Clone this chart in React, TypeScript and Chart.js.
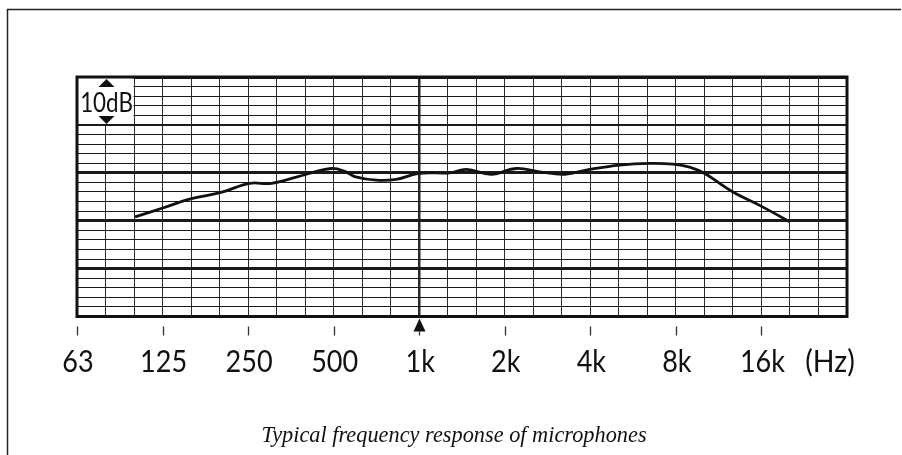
import React, { useEffect, useRef } from "react";
import { Chart, registerables } from "chart.js";

Chart.register(...registerables);

// ---- data ----
const freqHz = [100, 126, 158, 201, 253, 302, 401, 491, 547, 593, 707, 831, 1000, 1280, 1465, 1794, 2198, 2654, 3250, 3978, 5075, 6470, 7815, 8940, 10100, 12700, 15770, 20100];
const responseDb = [-9.2, -7.3, -5.4, -4.1, -2.2, -2.2, -0.3, 0.9, 0.3, -0.8, -1.55, -1.35, -0.1, 0, 0.7, -0.3, 0.9, 0.2, -0.3, 0.7, 1.6, 1.95, 1.8, 1.2, -0.15, -4.0, -6.8, -10.2];

const octaveTicks = [62.5, 125, 250, 500, 1000, 2000, 4000, 8000, 16000];
const octaveLabels = ["63", "125", "250", "500", "1k", "2k", "4k", "8k", "16k"];
const referenceHz = 1000;
const xMin = 62.5;
const xMax = 32000;
const gridPerOctave = 3;
const yMin = -30;
const yMax = 20;
const yMajorStep = 10;
const yMinorStep = 2;
const unitLabel = "(Hz)";
const scaleLabel = "10dB";
const caption = "Typical frequency response of microphones";

const LABEL_FONT = "Lato, 'Open Sans', sans-serif";

function scaledText(ctx: CanvasRenderingContext2D, text: string, x: number, y: number, sx: number) {
  ctx.save();
  ctx.translate(x, y);
  ctx.scale(sx, 1);
  ctx.fillText(text, 0, 0);
  ctx.restore();
}

const decor = {
  id: "decor",
  beforeDatasetsDraw(chart: any) {
    const { ctx, chartArea: a, scales } = chart;
    const x = scales.x;
    const y = scales.y;
    const xr = x.getPixelForValue(xMin * Math.pow(2, 2 / gridPerOctave));
    const yb = y.getPixelForValue(yMax - yMajorStep);
    ctx.save();
    ctx.fillStyle = "#ffffff";
    ctx.fillRect(a.left + 1, a.top + 1, xr - a.left - 1.5, yb - a.top - 2);
    const cx = (a.left + xr) / 2 + 1;
    ctx.fillStyle = "#111";
    ctx.beginPath();
    ctx.moveTo(cx, a.top + 2);
    ctx.lineTo(cx + 8, a.top + 10);
    ctx.lineTo(cx - 8, a.top + 10);
    ctx.closePath();
    ctx.fill();
    ctx.beginPath();
    ctx.moveTo(cx, yb - 1);
    ctx.lineTo(cx + 8, yb - 9);
    ctx.lineTo(cx - 8, yb - 9);
    ctx.closePath();
    ctx.fill();
    ctx.font = `26px ${LABEL_FONT}`;
    ctx.textAlign = "center";
    ctx.textBaseline = "alphabetic";
    scaledText(ctx, scaleLabel, cx, a.top + 35, 0.86);
    ctx.restore();
  },
  afterDatasetsDraw(chart: any) {
    const { ctx, chartArea: a, scales } = chart;
    const x = scales.x;
    ctx.save();
    ctx.strokeStyle = "#111";
    ctx.lineWidth = 3;
    ctx.strokeRect(a.left, a.top, a.right - a.left, a.bottom - a.top);

    ctx.lineWidth = 1.3;
    ctx.strokeStyle = "#333";
    octaveTicks.forEach((v) => {
      const px = Math.round(x.getPixelForValue(v)) + 0.5;
      if (Math.abs(v - referenceHz) < 1e-6) {
        ctx.fillStyle = "#111";
        ctx.beginPath();
        ctx.moveTo(px, a.bottom + 2);
        ctx.lineTo(px + 6, a.bottom + 15);
        ctx.lineTo(px - 6, a.bottom + 15);
        ctx.closePath();
        ctx.fill();
        ctx.beginPath();
        ctx.moveTo(px, a.bottom + 15);
        ctx.lineTo(px, a.bottom + 19);
        ctx.stroke();
      } else {
        ctx.beginPath();
        ctx.moveTo(px, a.bottom + 10);
        ctx.lineTo(px, a.bottom + 19);
        ctx.stroke();
      }
    });

    ctx.fillStyle = "#111";
    ctx.font = `30px ${LABEL_FONT}`;
    ctx.textAlign = "center";
    ctx.textBaseline = "alphabetic";
    octaveTicks.forEach((v, i) => {
      scaledText(ctx, octaveLabels[i], x.getPixelForValue(v) + 1, a.bottom + 55.5, 0.9);
    });
    scaledText(ctx, unitLabel, 830, a.bottom + 55.5, 0.95);

    ctx.font = "italic 24px 'Liberation Serif', serif";
    scaledText(ctx, caption, 454, 442, 0.93);

    ctx.strokeStyle = "#222";
    ctx.lineWidth = 1.5;
    ctx.beginPath();
    ctx.moveTo(7.5, 460);
    ctx.lineTo(7.5, 9.5);
    ctx.lineTo(901, 9.5);
    ctx.stroke();
    ctx.restore();
  },
};

export default function App() {
  const ref = useRef<HTMLCanvasElement | null>(null);
  useEffect(() => {
    if (!ref.current) return;
    const chart = new Chart(ref.current, {
      type: "line",
      data: {
        datasets: [
          {
            data: freqHz.map((f, i) => ({ x: f, y: responseDb[i] })),
            borderColor: "#111",
            borderWidth: 2.8,
            pointRadius: 0,
            tension: 0.4,
            fill: false,
          },
        ],
      },
      options: {
        animation: false,
        responsive: false,
        maintainAspectRatio: false,
        layout: { padding: { left: 77, top: 77, right: 55, bottom: 138.5 } },
        plugins: { legend: { display: false }, tooltip: { enabled: false }, title: { display: false } },
        scales: {
          x: {
            type: "logarithmic",
            min: xMin,
            max: xMax,
            afterBuildTicks: (scale: any) => {
              const n = Math.round(Math.log2(xMax / xMin) * gridPerOctave);
              const t = [] as any[];
              for (let k = 0; k <= n; k++) t.push({ value: xMin * Math.pow(2, k / gridPerOctave) });
              scale.ticks = t;
            },
            ticks: { display: false },
            border: { display: false },
            grid: {
              drawTicks: false,
              color: "#2a2a2a",
              lineWidth: (c: any) => (Math.abs(c.tick.value - referenceHz) < 1e-3 ? 2.5 : 1),
            },
          },
          y: {
            type: "linear",
            min: yMin,
            max: yMax,
            afterBuildTicks: (scale: any) => {
              const t = [] as any[];
              for (let v = yMin; v <= yMax; v += yMinorStep) t.push({ value: v });
              scale.ticks = t;
            },
            ticks: { display: false },
            border: { display: false },
            grid: {
              drawTicks: false,
              color: "#1a1a1a",
              lineWidth: (c: any) => {
                const v = c.tick.value;
                if (v % yMajorStep === 0) return v === yMax - yMajorStep ? 2 : 3;
                return 1;
              },
            },
          },
        },
      },
      plugins: [decor],
    });
    return () => chart.destroy();
  }, []);
  return (
    <div style={{ position: "fixed", left: 0, top: 0, width: 902, height: 455, background: "#fff" }}>
      <canvas ref={ref} width={902} height={455} style={{ width: 902, height: 455, display: "block" }} />
    </div>
  );
}
